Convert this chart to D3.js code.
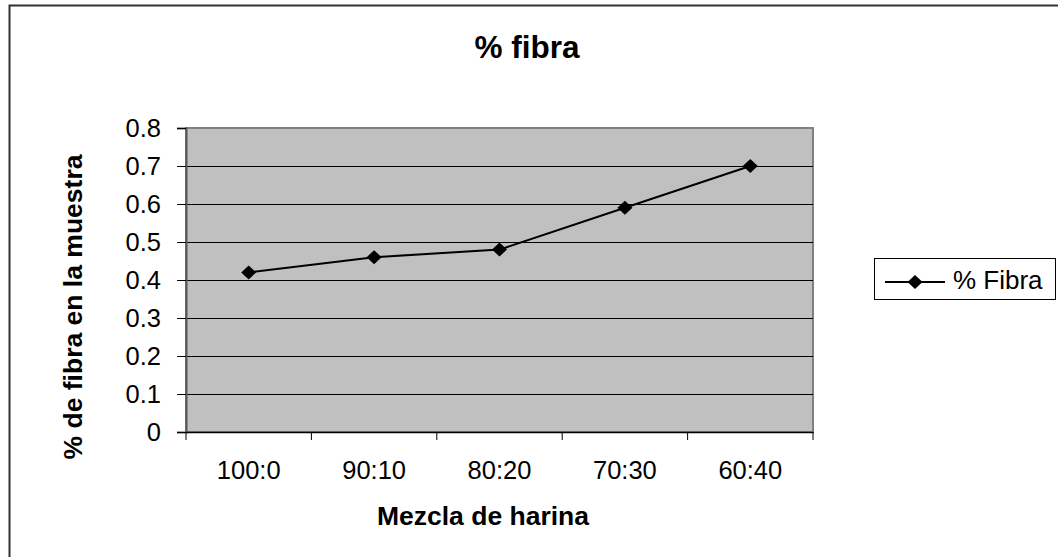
<!DOCTYPE html>
<html><head><meta charset="utf-8">
<script src="https://cdn.jsdelivr.net/npm/d3@7"></script>
<style>
html,body{margin:0;padding:0;background:#fff;overflow:hidden}
text{font-family:"Liberation Sans",Arial,sans-serif}
</style></head>
<body><svg id="c" width="1058" height="557"></svg>
<script>
const categories = ["100:0","90:10","80:20","70:30","60:40"];
const fibra = [0.42,0.46,0.48,0.59,0.70];
const yTicks = [0,0.1,0.2,0.3,0.4,0.5,0.6,0.7,0.8];
const yTickLabels = ["0","0.1","0.2","0.3","0.4","0.5","0.6","0.7","0.8"];
const seriesName = "% Fibra";
const chartTitle = "% fibra";
const xTitle = "Mezcla de harina";
const yTitle = "% de fibra en la muestra";

const svg = d3.select("#c");
const L=186, R=813, T=128, B=432;

// outer chart border
svg.append("rect").attr("x",9.5).attr("y",5.5).attr("width",1100).attr("height",600)
  .attr("fill","#fff").attr("stroke","#333").attr("stroke-width",2);

const x = d3.scaleBand().domain(categories).range([L,R]);
const y = d3.scaleLinear().domain([0,0.8]).range([B,T]);

// plot area
svg.append("rect").attr("x",L).attr("y",T).attr("width",R-L).attr("height",B-T)
  .attr("fill","#c0c0c0").attr("stroke","#808080").attr("stroke-width",2);

// gridlines
svg.append("g").selectAll("line").data(yTicks.filter(d=>d>0 && d<0.8)).join("line")
  .attr("x1",L).attr("x2",R).attr("y1",d=>Math.round(y(d))+0.5).attr("y2",d=>Math.round(y(d))+0.5)
  .attr("stroke","#000").attr("stroke-width",1);

// y axis
const yAxis = d3.axisLeft(y).tickValues(yTicks).tickFormat((d,i)=>yTickLabels[i]).tickSize(9).tickPadding(16);
const gy = svg.append("g").attr("transform",`translate(${L},0)`).call(yAxis);
gy.select(".domain").attr("stroke","#555").attr("stroke-width",2);
gy.selectAll(".tick line").attr("stroke","#000").attr("stroke-width",1);
gy.selectAll(".tick text").attr("font-size",25.5).attr("fill","#000")
  .attr("font-family","'Liberation Sans',Arial,sans-serif");

// x axis
const xAxis = d3.axisBottom(x).tickSize(0).tickPadding(0);
const gx = svg.append("g").attr("transform",`translate(0,${B})`).call(xAxis);
gx.select(".domain").attr("stroke","#000").attr("stroke-width",1.5);
gx.selectAll(".tick text").attr("font-size",25.5).attr("fill","#000").attr("dy",0).attr("y",47)
  .attr("font-family","'Liberation Sans',Arial,sans-serif");
// x tick marks at category boundaries
const bounds = categories.map(c=>x(c)).concat([x(categories[categories.length-1])+x.bandwidth()]);
svg.append("g").selectAll("line").data(bounds).join("line")
  .attr("x1",d=>d).attr("x2",d=>d).attr("y1",B).attr("y2",B+8)
  .attr("stroke","#000").attr("stroke-width",1);

// line
const cx = d=>x(d)+x.bandwidth()/2;
const line = d3.line().x((d,i)=>cx(categories[i])).y(d=>y(d));
svg.append("path").datum(fibra).attr("d",line).attr("fill","none").attr("stroke","#000").attr("stroke-width",2);
const diamond = "M0,-7L7.5,0L0,7L-7.5,0Z";
svg.append("g").selectAll("path").data(fibra).join("path")
  .attr("d",diamond).attr("transform",(d,i)=>`translate(${cx(categories[i])},${y(d)})`).attr("fill","#000");

// titles
svg.append("text").attr("x",527).attr("y",58).attr("text-anchor","middle")
  .attr("font-size",31.5).attr("font-weight","bold").text(chartTitle);
svg.append("text").attr("x",483).attr("y",525).attr("text-anchor","middle")
  .attr("font-size",26.5).attr("font-weight","bold").text(xTitle);
svg.append("text").attr("transform","translate(82,307) rotate(-90)").attr("text-anchor","middle")
  .attr("font-size",26.5).attr("font-weight","bold").text(yTitle);

// legend
svg.append("rect").attr("x",874.5).attr("y",258.5).attr("width",181).attr("height",41)
  .attr("fill","#fff").attr("stroke","#000").attr("stroke-width",1);
svg.append("line").attr("x1",885).attr("x2",945).attr("y1",282).attr("y2",282).attr("stroke","#000").attr("stroke-width",2);
svg.append("path").attr("d",diamond).attr("transform","translate(915,282)").attr("fill","#000");
svg.append("text").attr("x",953).attr("y",289).attr("font-size",26).text(seriesName);
</script></body></html>
